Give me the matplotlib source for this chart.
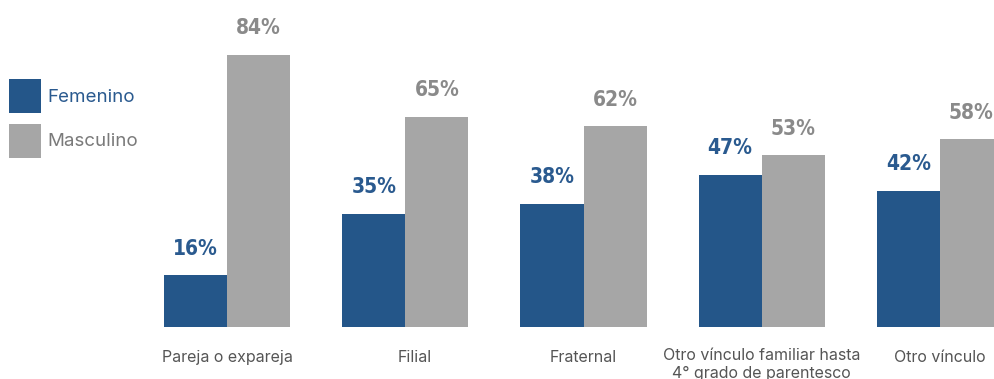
import matplotlib.pyplot as plt
import numpy as np

categorias = ['Pareja o expareja', 'Filial', 'Fraternal',
              'Otro vínculo familiar hasta\n4° grado de parentesco', 'Otro vínculo']
femenino = [16, 35, 38, 47, 42]
masculino = [84, 65, 62, 53, 58]

azul = '#245689'
gris = '#a6a6a6'

fig = plt.figure(figsize=(9.95, 3.79), dpi=100)
ax = fig.add_axes([138/995, 52/379, (995-138)/995, 327/379])

x = np.arange(len(categorias))
w = 0.354
b1 = ax.bar(x - w/2, femenino, w, color=azul, label='Femenino')
b2 = ax.bar(x + w/2, masculino, w, color=gris, label='Masculino')

ax.set_xlim(-0.5, 4.309)
ax.set_ylim(0, 101)
ax.axis('off')

# etiquetas de valor
for xi, v in zip(x, femenino):
    ax.annotate(f'{v}%', (xi - w/2, v), xytext=(0, 12), textcoords='offset points',
                ha='center', va='bottom', fontsize=15, fontweight='bold',
                fontstretch='condensed', family='DejaVu Sans', color='#2a5a8f')
for xi, v in zip(x, masculino):
    ax.annotate(f'{v}%', (xi + w/2, v), xytext=(0, 12), textcoords='offset points',
                ha='center', va='bottom', fontsize=15, fontweight='bold',
                fontstretch='condensed', family='DejaVu Sans', color='#8a8a8a')

# etiquetas de categoría
desplaz = [0, 7, 0, 0, 0]
for xi, cat, dx in zip(x, categorias, desplaz):
    if '\n' in cat:
        ax.annotate(cat, (xi, 0), xytext=(0, -15), textcoords='offset points',
                    ha='center', va='top', fontsize=11.5, family='Inter',
                    color='#555555', linespacing=1.25, annotation_clip=False)
    else:
        ax.annotate(cat, (xi, 0), xytext=(dx, -22), textcoords='offset points',
                    ha='center', va='center', fontsize=11.5, family='Inter',
                    color='#555555', annotation_clip=False)

leg = fig.legend(handles=[b1, b2], loc='upper left', bbox_to_anchor=(9/995, 1 - 79/379),
                 frameon=False, borderpad=0, borderaxespad=0,
                 handlelength=1.70, handleheight=2.43,
                 handletextpad=0.37, labelspacing=0.55, prop={'family': 'Inter', 'size': 13.5},
                 labelcolor=['#2a5a8f', '#7a7a7a'])

fig.savefig('out.png', dpi=100)
